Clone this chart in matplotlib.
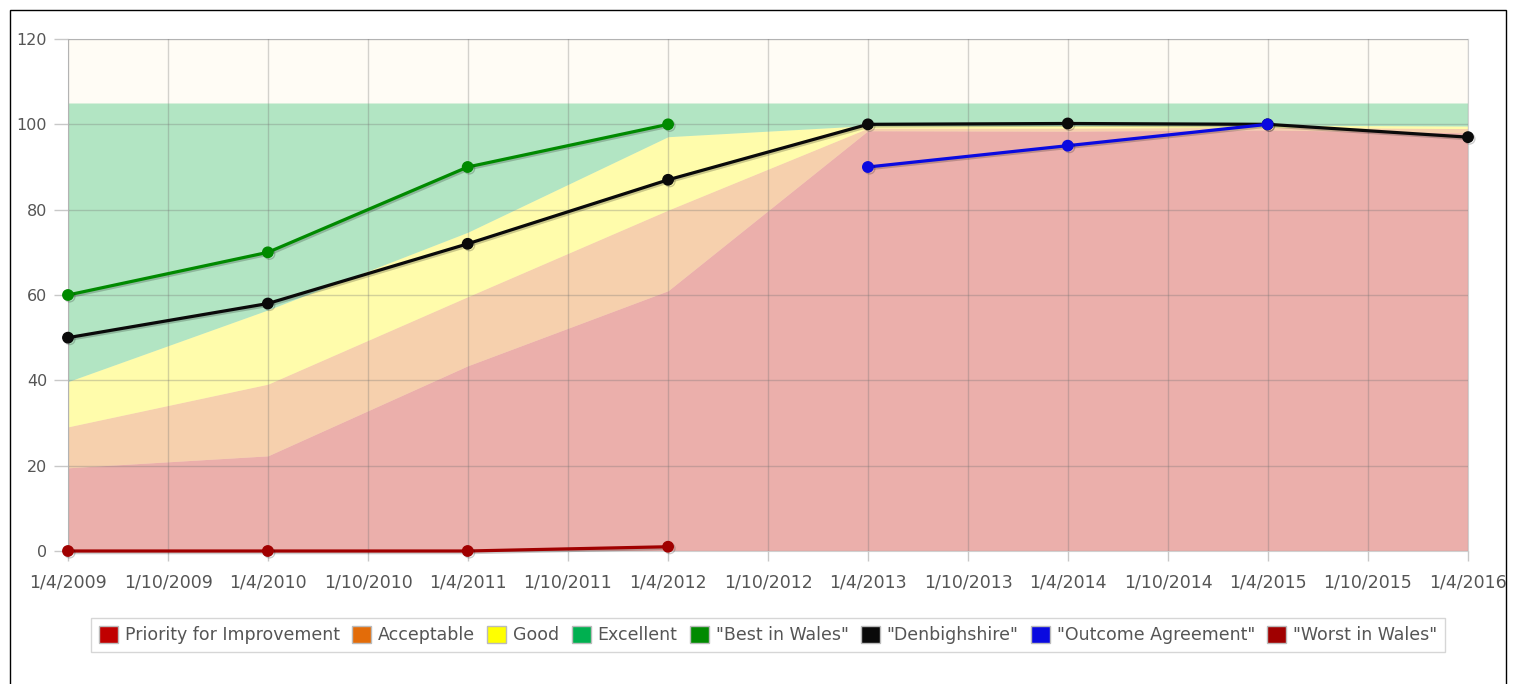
import datetime as dt

import matplotlib
matplotlib.use("Agg")
import matplotlib.pyplot as plt
import matplotlib.patheffects as pe
from matplotlib.patches import Patch, Rectangle

# --- data ---
years = [dt.date(y, 4, 1) for y in range(2009, 2017)]

# upper edge of each performance band (stacked)
priority_top = [19.5, 22.3, 43.4, 61.0, 98.5, 98.4, 98.7, 98.0]
acceptable_top = [29.1, 39.1, 59.6, 79.9, 99.1, 99.1, 99.3, 99.0]
good_top = [39.7, 56.5, 74.7, 97.1, 99.7, 99.7, 99.8, 99.6]
excellent_top = [105, 105, 105, 105, 105, 105, 105, 105]

best_wales = [60, 70, 90, 100, None, None, None, None]
denbighshire = [50, 58, 72, 87, 100, 100.2, 100, 97]
outcome = [None, None, None, None, 90, 95, 100, None]
worst_wales = [0, 0, 0, 1, None, None, None, None]

tick_dates = [dt.date(y, m, 1) for y in range(2009, 2017) for m in (4, 10)][:-1]
tick_labels = [f"{d.day}/{d.month}/{d.year}" for d in tick_dates]

band_names = ["Priority for Improvement", "Acceptable", "Good", "Excellent"]
band_colors = ["#C00000", "#E36C09", "#FFFF00", "#00B050"]
line_names = ['"Best in Wales"', '"Denbighshire"', '"Outcome Agreement"', '"Worst in Wales"']
line_colors = ["#008A00", "#0A0A0A", "#0A0AE0", "#A00000"]


def pts(vals):
    xs = [x for x, v in zip(years, vals) if v is not None]
    ys = [v for v in vals if v is not None]
    return xs, ys


fig = plt.figure(figsize=(15.21, 6.84), dpi=100)
ax = fig.add_axes([68 / 1521, 1 - 551 / 684, 1400 / 1521, 512 / 684])
ax.set_facecolor("#FFFCF5")

lower = [0] * len(years)
for top, col in zip([priority_top, acceptable_top, good_top, excellent_top], band_colors):
    ax.fill_between(years, lower, top, color=col, alpha=0.3, linewidth=0, zorder=1)
    lower = top

shadow = [pe.SimpleLineShadow(offset=(1.2, -1.2), alpha=0.2), pe.Normal()]
for vals, col in zip([best_wales, denbighshire, outcome, worst_wales], line_colors):
    xs, ys = pts(vals)
    ax.plot(xs, ys, color=col, linewidth=2.3, marker="o", markersize=7.5,
            zorder=4, clip_on=False, path_effects=shadow)

ax.set_xlim(years[0], years[-1])
ax.set_ylim(0, 120)
ax.set_yticks(range(0, 121, 20))
ax.set_xticks(tick_dates)
ax.set_xticklabels(tick_labels)

ax.set_axisbelow(False)
ax.grid(True, color="#707070", alpha=0.3, linewidth=1, zorder=2)
for sp in ax.spines.values():
    sp.set_color("#d0d0d0")
    sp.set_zorder(2)

ax.tick_params(axis="y", length=10, width=1, color="#c8c8c8", pad=5,
               labelsize=11.5, labelcolor="#555555")
ax.tick_params(axis="x", length=7, width=1, color="#c8c8c8", pad=9,
               labelsize=12.5, labelcolor="#555555")

handles = [Patch(facecolor=c, edgecolor="#bbbbbb", linewidth=1) for c in band_colors + line_colors]
leg = ax.legend(handles, band_names + line_names, loc="upper center",
                bbox_to_anchor=(0.5, -0.114), ncol=8, fontsize=12.5,
                frameon=True, fancybox=False, edgecolor="#cccccc",
                handlelength=1.1, handleheight=1.1, handletextpad=0.4,
                columnspacing=0.7, borderpad=0.45, labelcolor="#555555")
leg.get_frame().set_linewidth(1)

# outer frame of the original image
fig.add_artist(Rectangle((10 / 1521, -0.05), 1496 / 1521, 1.05 - 10 / 684,
                         transform=fig.transFigure, fill=False,
                         edgecolor="black", linewidth=1))

fig.savefig("out.png", dpi=100)
plt.close(fig)
